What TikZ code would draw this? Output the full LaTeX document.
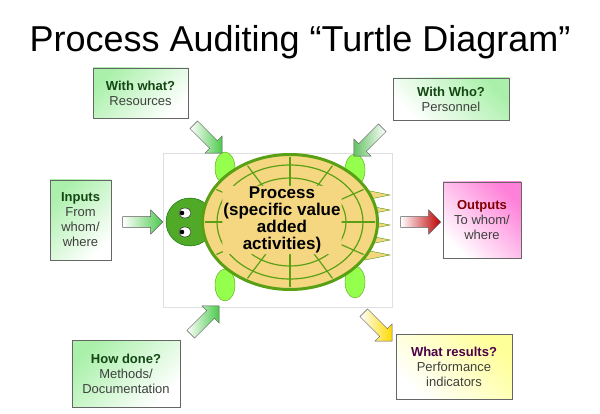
\documentclass[tikz,border=0pt]{standalone}
\usepackage{fontspec}
\setmainfont{Liberation Sans}
\usetikzlibrary{shapes.arrows,shapes.geometric}
\definecolor{dg}{RGB}{20,70,20}
\definecolor{gbox}{RGB}{170,240,170}
\definecolor{shellg}{RGB}{90,160,20}
\definecolor{shelly}{RGB}{245,215,130}
\definecolor{headg}{RGB}{80,170,40}
\tikzset{
 box/.style={draw=gray!80!black,line width=0.6pt,align=center,font=\fontsize{13}{15}\selectfont,text=black!75,inner sep=2pt},
 gbox/.style={box,top color=gbox,bottom color=white,shading angle=45},
 barrow/.style={single arrow,draw=gray!70!black,line width=0.5pt,minimum width=24pt,single arrow head extend=4pt,inner sep=3pt,minimum height=40pt},
 garrow/.style={barrow,left color=white,right color=green!70!black!70},
}
\begin{document}
\begin{tikzpicture}[x=1pt,y=-1pt]
\useasboundingbox (0,0) rectangle (600,414);
\node[font=\fontsize{36}{40}\selectfont] (title) at (300,42) {Process Auditing “Turtle Diagram”};
% turtle picture frame
\draw[gray!25] (163,153) rectangle (392,307);
% legs
\foreach \p in {(225,168),(355,170),(225,285),(355,282)}
 \fill[green!60!yellow!70,draw=shellg] \p ellipse (10 and 16);
% spikes tail
\foreach \yy in {195,210,225,240,255}
 \fill[shelly,draw=shellg] (365,\yy-5) -- (390,\yy) -- (365,\yy+5) -- cycle;
% head
\fill[headg,draw=green!40!black] (190,222) ellipse (24 and 24);
\fill[white,draw=black] (185,213) ellipse (6 and 5);
\fill[white,draw=black] (185,232) ellipse (6 and 5);
\fill[black] (182,213) circle (2.3);
\fill[black] (182,232) circle (2.3);
% shell
\node[ellipse,draw=shellg,line width=3pt,fill=shelly,minimum width=175pt,minimum height=135pt] (shell) at (290,222) {};
\foreach \r in {0.8,0.6}
 \draw[shellg,line width=1.2pt] (290,222) ellipse (85*\r+5 and 65*\r+5);
\foreach \ang in {0,30,...,330}
 \draw[shellg,line width=1.2pt] (290,222) -- ++(\ang:85 and 65);
\node[align=center,font=\bfseries\fontsize{17}{17}\selectfont,fill=shelly,inner sep=1pt,rounded corners] (proc) at (282,220) {Process\\(specific value\\added\\activities)};
% boxes
\node[gbox,minimum width=95pt,minimum height=50pt] (what) at (140.5,93) {\textbf{\textcolor{dg}{With what?}}\\Resources};
\node[gbox,minimum width=116pt,minimum height=42pt,shading angle=-45] (who) at (451,99) {\textbf{\textcolor{dg}{With Who?}}\\Personnel};
\node[gbox,minimum width=61pt,minimum height=80pt] (in) at (80.5,220) {\textbf{\textcolor{dg}{Inputs}}\\From\\whom/\\where};
\node[box,minimum width=78pt,minimum height=76pt,top color=red!30!magenta!50,bottom color=white,shading angle=-45] (out) at (482,220) {\textbf{\textcolor{red!50!black}{Outputs}}\\To whom/\\where};
\node[gbox,minimum width=108pt,minimum height=67pt] (how) at (126,373.5) {\textbf{\textcolor{dg}{How done?}}\\Methods/\\Documentation};
\node[box,minimum width=116pt,minimum height=65pt,top color=yellow!40,bottom color=white,shading angle=-45] (res) at (454,366.5) {\textbf{\textcolor{violet!60!black}{What results?}}\\Performance\\indicators};
% arrows
\node[garrow,rotate=-45] (a1) at (206,137) {};
\node[garrow,rotate=-135,left color=green!60!black!60,right color=white] (a2) at (370,140) {};
\node[garrow] (a3) at (140,222) {};
\node[barrow,left color=white,right color=red!75!black] (a4) at (418,222) {};
\node[garrow,rotate=45] (a5) at (203,322) {};
\node[barrow,rotate=-45,left color=white,right color=yellow!70!orange] (a6) at (376,325) {};
\end{tikzpicture}
\end{document}
